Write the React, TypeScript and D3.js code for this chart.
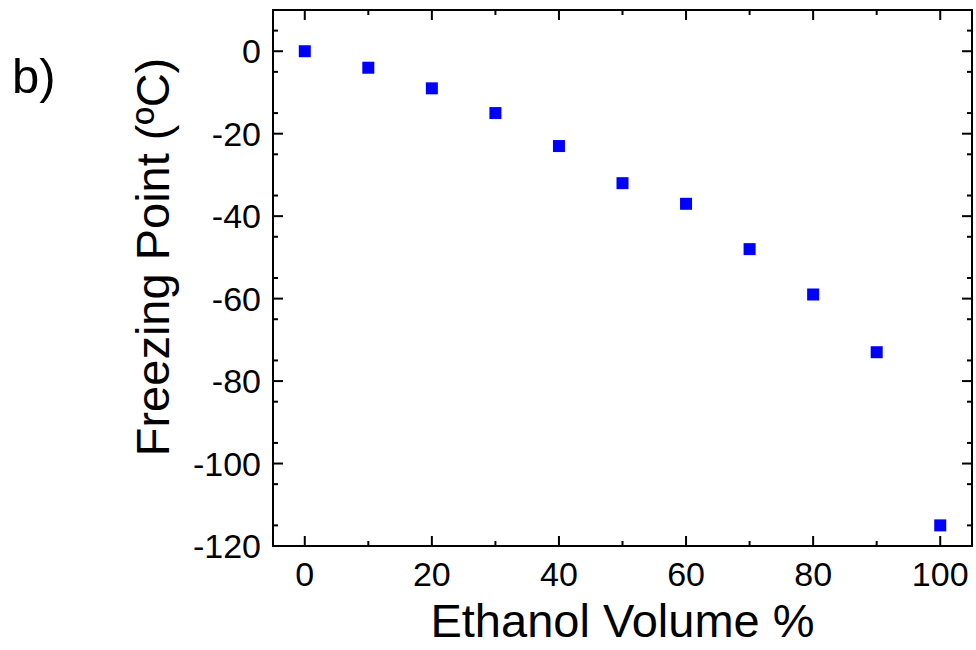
import * as d3 from "d3";
import React, {useEffect, useRef} from "react";

// ethanol volume % vs freezing point (ºC)
const ethanolVolume = [0, 10, 20, 30, 40, 50, 60, 70, 80, 90, 100];
const freezingPoint = [0, -4, -9, -15, -23, -32, -37, -48, -59, -73, -115];
const xTicks = [0, 20, 40, 60, 80, 100];
const yTicks = [0, -20, -40, -60, -80, -100, -120];

const App = () => {
    const width = 976;
    const height = 650;
    const margin = {top: 10, right: 4, bottom: 104, left: 273};
    const chartRef = useRef<HTMLDivElement>(null);

    const drawChart = () => {
        const svg = d3.create("svg")
            .attr("width", width)
            .attr("height", height)
            .attr("viewBox", `0 0 ${width} ${height}`)
            .style("display", "block")
            .style("background", "#fff")
            .style("font-family", "'Liberation Sans', Arial, sans-serif");

        const x = d3.scaleLinear().domain([-5, 105]).range([margin.left, width - margin.right]);
        const y = d3.scaleLinear().domain([-120, 10]).range([height - margin.bottom, margin.top]);

        const x0 = x.range()[0], x1 = x.range()[1];
        const y0 = y.range()[0], y1 = y.range()[1];

        const minorX = d3.range(10, 100, 20);
        const minorY = d3.range(-115, 10, 10);

        const ticks = svg.append("g").attr("stroke", "#000").attr("stroke-width", 2);

        // bottom + top ticks (inward)
        [[xTicks, 10], [minorX, 5]].forEach(([vals, len]: any) => {
            vals.forEach((v: number) => {
                ticks.append("line").attr("x1", x(v)).attr("x2", x(v)).attr("y1", y0).attr("y2", y0 - len);
                ticks.append("line").attr("x1", x(v)).attr("x2", x(v)).attr("y1", y1).attr("y2", y1 + len);
            });
        });
        // left + right ticks
        [[yTicks, 10], [minorY, 5]].forEach(([vals, len]: any) => {
            vals.forEach((v: number) => {
                ticks.append("line").attr("y1", y(v)).attr("y2", y(v)).attr("x1", x0).attr("x2", x0 + len);
                ticks.append("line").attr("y1", y(v)).attr("y2", y(v)).attr("x1", x1).attr("x2", x1 - len);
            });
        });

        svg.append("rect")
            .attr("x", x0).attr("y", y1)
            .attr("width", x1 - x0).attr("height", y0 - y1)
            .attr("fill", "none").attr("stroke", "#000").attr("stroke-width", 2);

        svg.append("g")
            .selectAll("text")
            .data(xTicks)
            .join("text")
            .attr("x", d => x(d))
            .attr("y", y0 + 40)
            .attr("text-anchor", "middle")
            .attr("font-size", 34)
            .text(d => d);

        svg.append("g")
            .selectAll("text")
            .data(yTicks)
            .join("text")
            .attr("x", x0 - 12)
            .attr("y", d => y(d))
            .attr("dy", "0.36em")
            .attr("text-anchor", "end")
            .attr("font-size", 34)
            .text(d => d);

        svg.append("text")
            .attr("x", (x0 + x1) / 2)
            .attr("y", 637)
            .attr("text-anchor", "middle")
            .attr("font-size", 47)
            .text("Ethanol Volume %");

        svg.append("text")
            .attr("transform", `translate(169, ${257}) rotate(-90)`)
            .attr("text-anchor", "middle")
            .attr("font-size", 47)
            .text("Freezing Point (ºC)");

        svg.append("text")
            .attr("x", 12)
            .attr("y", 93)
            .attr("font-size", 49)
            .text("b)");

        const s = 12;
        svg.append("g")
            .selectAll("rect")
            .data(ethanolVolume.map((v, i) => [v, freezingPoint[i]]))
            .join("rect")
            .attr("x", d => x(d[0]) - s / 2)
            .attr("y", d => y(d[1]) - s / 2)
            .attr("width", s)
            .attr("height", s)
            .attr("fill", "#0000ff");

        return svg.node();
    };

    useEffect(() => {
        document.body.style.margin = "0";
        if (chartRef.current) {
            chartRef.current.innerHTML = "";
            const node = drawChart();
            if (node) chartRef.current.appendChild(node);
        }
    }, []);

    return (
        <>
            <div ref={chartRef}/>
        </>
    );
};

export default App;
